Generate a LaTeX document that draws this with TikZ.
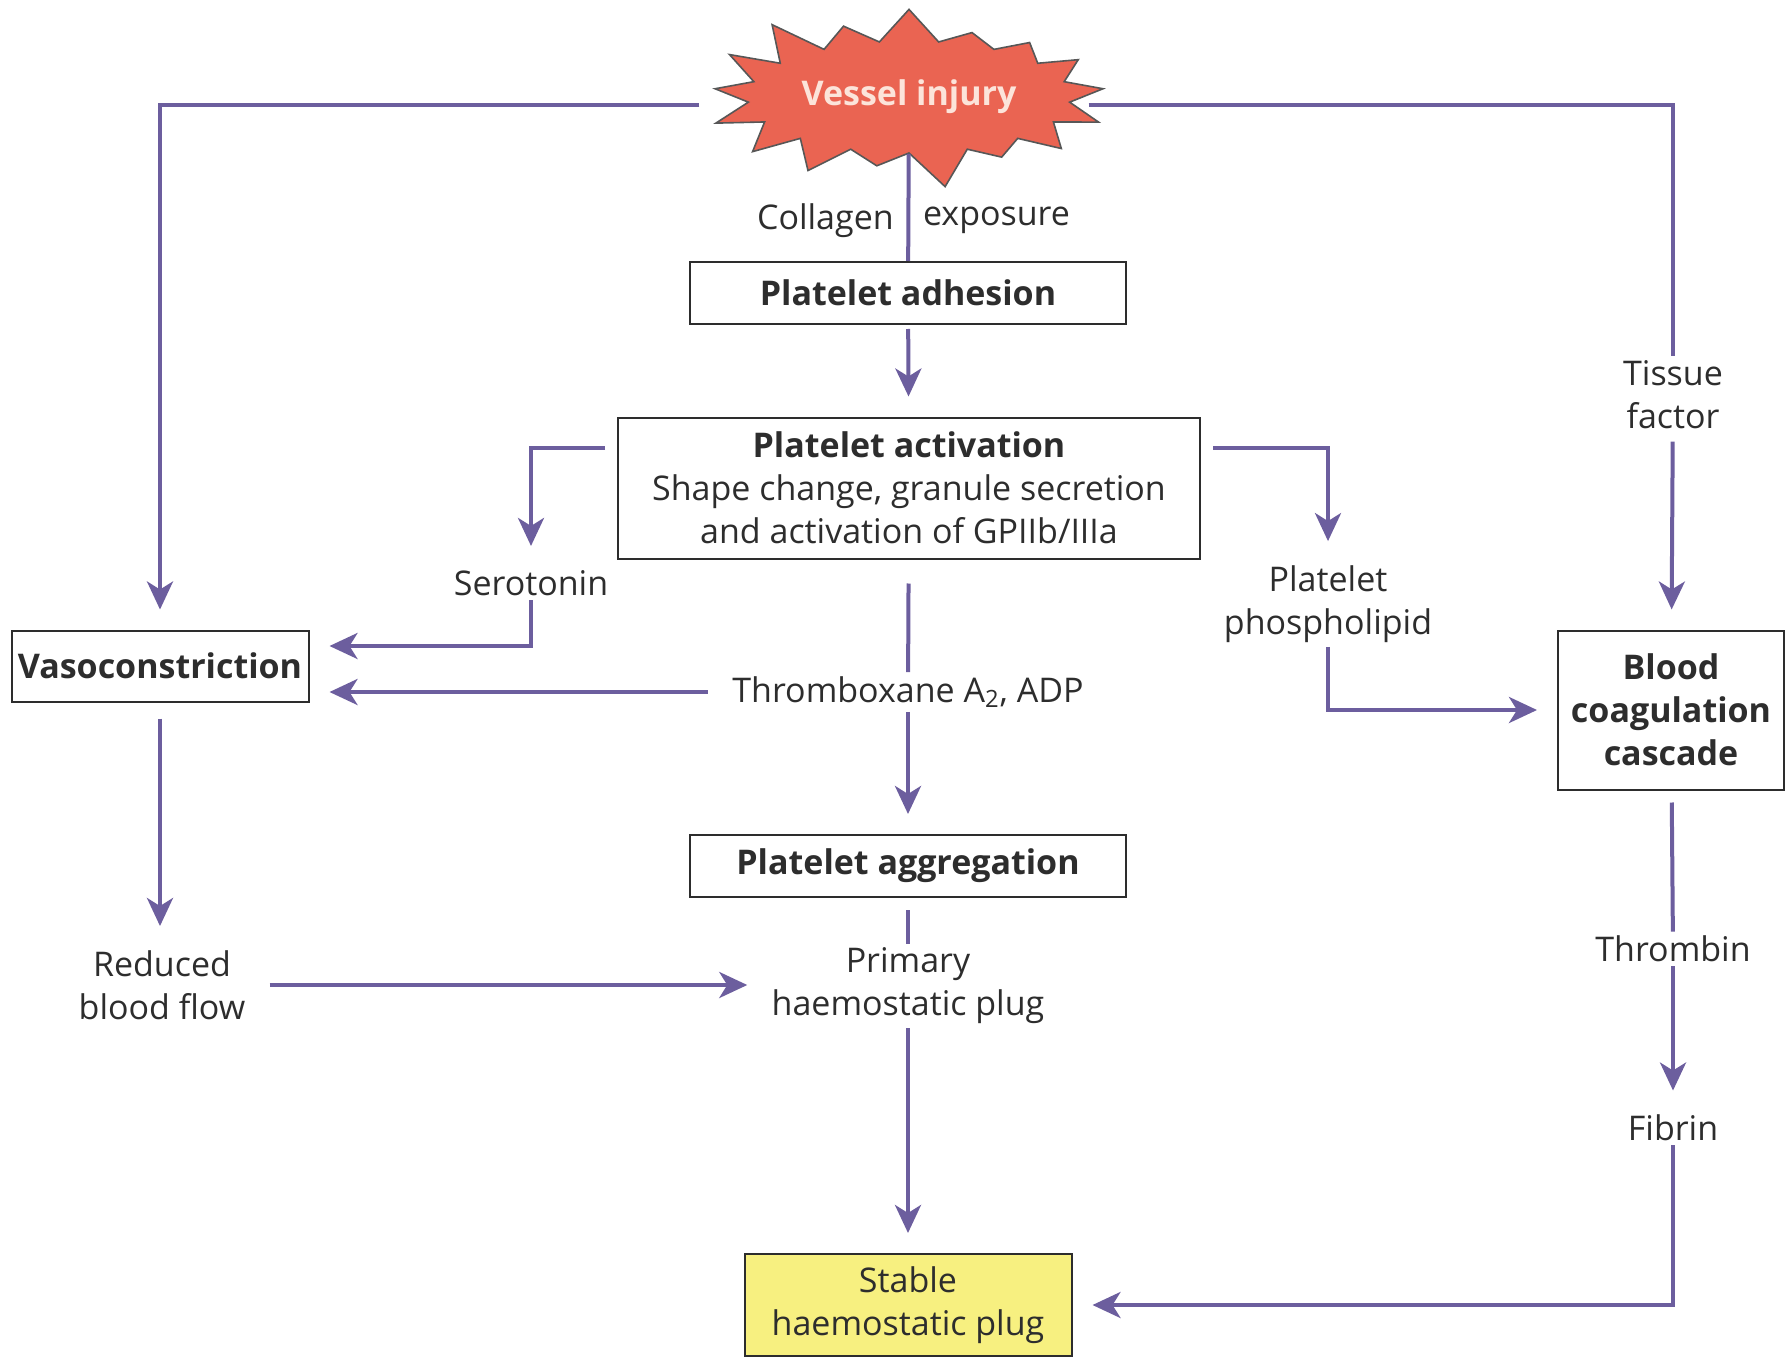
\documentclass[tikz,border=0pt]{standalone}
\usepackage{fontspec}
\setmainfont{Open Sans}
\usetikzlibrary{shapes.symbols,arrows.meta}

\definecolor{arrowc}{RGB}{108,94,158}
\definecolor{burstc}{RGB}{234,100,82}
\definecolor{bursttxt}{RGB}{252,228,218}
\definecolor{plugc}{RGB}{247,240,128}
\definecolor{txtc}{RGB}{45,45,45}

\tikzset{
  every node/.style={font=\fontsize{17}{21.5}\selectfont,text=txtc},
  box/.style={draw=txtc,line width=1pt,fill=white,align=center,inner xsep=3pt},
  hbox/.style={box,font=\fontsize{17}{21.5}\selectfont\bfseries},
  lbl/.style={align=center,inner sep=2pt},
  burst/.style={starburst,starburst points=17,random starburst=41,starburst point height=24pt,
    draw=txtc!80,line width=0.8pt,fill=burstc,text=bursttxt,
    font=\fontsize{17}{21.5}\selectfont\bfseries,minimum width=150pt,minimum height=104pt},
  line/.style={draw=arrowc,line width=2pt},
  link/.style={line,-{Stealth[length=14pt,width=13pt,inset=4pt]},shorten >=10pt},
}

\begin{document}
\begin{tikzpicture}[x=0.5pt,y=-0.5pt]
\useasboundingbox (0,0) rectangle (1787,1358);

\node[burst] (injury) at (909,97) {Vessel injury};
\node[hbox,minimum width=218pt,minimum height=31pt] (adh) at (908,293) {Platelet adhesion};
\node[box,minimum width=291pt,minimum height=70.5pt] (act) at (909,488)
  {{\bfseries Platelet activation}\\Shape change, granule secretion\\and activation of GPIIb/IIIa};
\node[lbl] (sero) at (531,583) {Serotonin};
\node[hbox,minimum width=148.5pt,minimum height=35.5pt] (vaso) at (160,666) {Vasoconstriction};
\node[lbl] (txa) at (908,692) {Thromboxane A\textsubscript{2}, ADP};
\node[hbox,minimum width=218pt,minimum height=31pt] (agg) at (908,866) {Platelet aggregation};
\node[lbl] (prim) at (908,986) {Primary\\haemostatic plug};
\node[box,fill=plugc,minimum width=163.5pt,minimum height=51pt] (stable) at (908,1305) {Stable\\haemostatic plug};
\node[lbl] (pl) at (1328,604) {Platelet\\phospholipid};
\node[hbox,minimum width=113pt,minimum height=79.5pt] (coag) at (1671,710) {Blood\\coagulation\\cascade};
\node[lbl] (tissue) at (1673,395) {Tissue\\factor};
\node[lbl] (reduced) at (162,985) {Reduced\\blood flow};
\node[lbl] (thrombin) at (1673,949) {Thrombin};
\node[lbl] (fibrin) at (1673,1128) {Fibrin};

\draw[link,shorten <=17pt] ([yshift=-4pt]injury.west) -| (vaso);
\draw[line,shorten <=2pt] ([yshift=-4pt]injury.east) -| (tissue.north);
\draw[link,shorten <=4pt] (tissue) -- (coag);
\draw[line] (injury) -- (adh) node[pos=0.62,left=3pt]{Collagen} node[pos=0.62,right=3pt]{exposure};
\draw[link,shorten <=2pt] (adh) -- (act);
\draw[link,shorten <=6pt] ([yshift=20pt]act.west) -| (sero);
\draw[link] (sero) |- ([yshift=10pt]vaso.east);
\draw[link,shorten <=10pt] (txa.west) -- (txa.west -| vaso.east);
\draw[line,shorten <=12pt] (act) -- (txa);
\draw[link] (txa) -- (agg);
\draw[line,shorten <=6pt] (agg) -- (prim);
\draw[link] (prim) -- (stable);
\draw[link,shorten <=6pt] ([yshift=20pt]act.east) -| (pl);
\draw[link] (pl) |- (coag);
\draw[link,shorten <=8pt] (vaso) -- (vaso |- reduced.north);
\draw[link,shorten <=10pt] (reduced) -- (reduced -| prim.west);
\draw[line,shorten <=6pt] (coag) -- (thrombin);
\draw[link] (thrombin) -- (fibrin);
\draw[link] (fibrin) |- (stable);
\end{tikzpicture}
\end{document}
